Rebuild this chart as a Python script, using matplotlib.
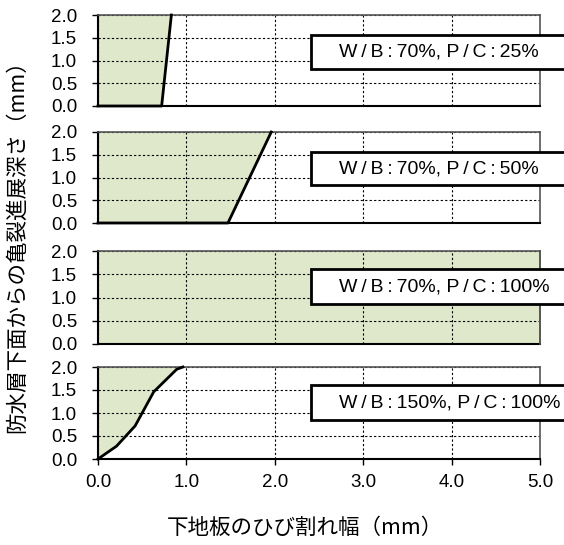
import matplotlib.pyplot as plt
from matplotlib.patches import Rectangle

plt.rcParams['font.family'] = ['Liberation Sans', 'DejaVu Sans']

# データ（下地板のひび割れ幅 mm, 亀裂進展深さ mm）
ts = '\u2009'
labels = [f'W{ts}/{ts}B{ts}:{ts}70%, P{ts}/{ts}C{ts}:{ts}25%',
          f'W{ts}/{ts}B{ts}:{ts}70%, P{ts}/{ts}C{ts}:{ts}50%',
          f'W{ts}/{ts}B{ts}:{ts}70%, P{ts}/{ts}C{ts}:{ts}100%',
          f'W{ts}/{ts}B{ts}:{ts}150%, P{ts}/{ts}C{ts}:{ts}100%']
width_1 = [0.0, 0.72, 0.83]
depth_1 = [0.0, 0.0, 2.0]
width_2 = [0.0, 1.47, 1.96]
depth_2 = [0.0, 0.0, 2.0]
width_3 = [5.0, 5.0]
depth_3 = [0.0, 2.0]
width_4 = [0.0, 0.21, 0.42, 0.63, 0.89, 0.96]
depth_4 = [0.0, 0.28, 0.72, 1.46, 1.95, 2.0]
series = [(width_1, depth_1), (width_2, depth_2), (width_3, depth_3), (width_4, depth_4)]

yticks = [0.0, 0.5, 1.0, 1.5, 2.0]
xticks = [0.0, 1.0, 2.0, 3.0, 4.0, 5.0]

W, H = 564, 545
fig = plt.figure(figsize=(W / 100, H / 100), dpi=100)

# パネル位置（ピクセル: 上端, 下端）
panels = [(15, 106), (132, 223), (251, 344), (367, 459)]
boxes = [(35, 69), (152, 185), (269, 304), (385, 420)]
x0, x1 = 98, 540
fill_color = '#dfe8cb'

for i, ((top, bot), (xs, ys)) in enumerate(zip(panels, series)):
    ax = fig.add_axes([x0 / W, 1 - bot / H, (x1 - x0) / W, (bot - top) / H])
    ax.set_xlim(0, 5)
    ax.set_ylim(0, 2)
    # 左側（亀裂が進展した範囲）を塗りつぶし
    fx = [0.0] + list(xs) + [0.0]
    fy = [ys[0]] + list(ys) + [ys[-1]]
    ax.fill(fx, fy, color=fill_color, zorder=1)
    if i == 2:
        ax.plot(xs, ys, color='#555555', lw=1.2, zorder=3, clip_on=False)
    else:
        ax.plot(xs, ys, color='black', lw=2, zorder=3, clip_on=False)
    ax.set_yticks(yticks)
    ax.set_yticklabels([f'{v:.1f}' for v in yticks], fontsize=13.5)
    ax.set_xticks(xticks)
    ax.grid(True, color='black', linestyle=(0, (2, 2)), lw=0.8, zorder=2)
    ax.tick_params(direction='out', length=4, width=1)
    ax.tick_params(axis='y', pad=11)
    if i < 3:
        ax.tick_params(axis='x', length=0, labelbottom=False)
    else:
        ax.set_xticklabels([f'{v:.1f}' for v in xticks], fontsize=13.5)
        ax.tick_params(axis='x', pad=7)
    for s in ['left', 'bottom']:
        ax.spines[s].set_linewidth(1.5)
    for s in ['top', 'right']:
        ax.spines[s].set_color('#555555')
        ax.spines[s].set_linewidth(1.2)

    # ラベルボックス
    bt, bb = boxes[i]
    fig.patches.append(Rectangle((311 / W, 1 - bb / H), 300 / W, (bb - bt) / H,
                                 transform=fig.transFigure, facecolor='white',
                                 edgecolor='black', lw=2, zorder=10))
    fig.text(339 / W, 1 - (bt + bb) / 2 / H, labels[i], fontsize=14,
             va='center', ha='left', zorder=11)

fig.text(17 / W, 1 - 241 / H, '防水層下面からの亀裂進展深さ（mm）', rotation=90,
         fontsize=15.5, ha='center', va='center',
         family=['Noto Sans CJK JP', 'DejaVu Sans'])
fig.text(305 / W, 1 - 528 / H, '下地板のひび割れ幅（mm）',
         fontsize=15.5, ha='center', va='center',
         family=['Noto Sans CJK JP', 'DejaVu Sans'])

fig.savefig('out.png', dpi=100)
